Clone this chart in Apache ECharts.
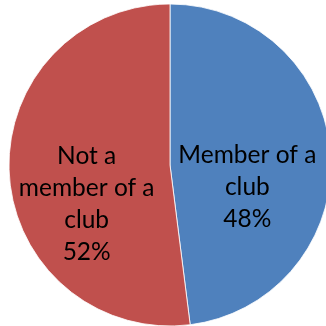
<!DOCTYPE html>
<html>
<head>
<meta charset="utf-8">
<script src="https://cdn.jsdelivr.net/npm/echarts@6/dist/echarts.min.js"></script>
<style>
  html, body { margin: 0; padding: 0; background: #fff; }
  #chart { width: 326px; height: 326px; }
</style>
</head>
<body>
<div id="chart"></div>
<script>
// Club membership split
var categories = ['Member of a club', 'Not a member of a club'];
var values = [48, 52];
// How each category name is wrapped inside its slice
var labelLines = [['Member of a', 'club'], ['Not a', 'member of a', 'club']];
var colors = ['#4F81BD', '#C0504D'];
// Nudge of each slice label from its default inside spot (px)
var labelDx = [-6, 0];
var labelDy = [27, 34];

var chart = echarts.init(document.getElementById('chart'));

var data = categories.map(function (name, i) {
  return { name: name, value: values[i], itemStyle: { color: colors[i] } };
});

chart.setOption({
  animation: false,
  series: [{
    type: 'pie',
    center: [170, 165],
    radius: 161,
    startAngle: 90,
    clockwise: true,
    percentPrecision: 0,
    itemStyle: { borderColor: '#ffffff', borderWidth: 0.8 },
    label: {
      position: 'inside',
      color: '#000',
      fontFamily: 'Lato',
      fontSize: 24.5,
      lineHeight: 32,
      align: 'center',
      formatter: function (p) {
        return labelLines[p.dataIndex].join('\n') + '\n' + p.percent + '%';
      }
    },
    labelLayout: function (p) {
      return { dx: labelDx[p.dataIndex], dy: labelDy[p.dataIndex] };
    },
    labelLine: { show: false },
    emphasis: { disabled: true },
    data: data
  }]
});
</script>
</body>
</html>
